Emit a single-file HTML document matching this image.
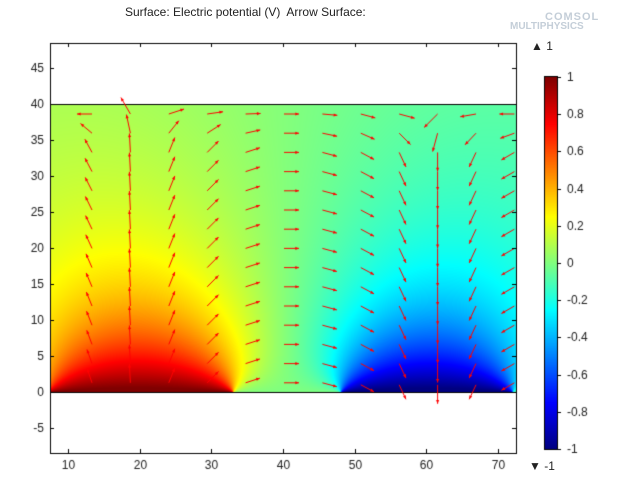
<!DOCTYPE html>
<html><head><meta charset="utf-8"><style>
body{margin:0;background:#fff;width:640px;height:480px;overflow:hidden;font-family:"Liberation Sans",sans-serif;}
canvas{position:absolute;left:0;top:0}
.t{position:absolute;font-size:12px;color:#222;}
</style></head><body>
<canvas id="c" width="640" height="480"></canvas>
<div class="t" style="left:125px;top:5px;">Surface: Electric potential (V)&nbsp; Arrow Surface:</div>
<div class="t" style="left:545px;top:11px;font-size:11px;color:#c4ced8;font-weight:bold;letter-spacing:1px">COMSOL</div>
<div class="t" style="left:510px;top:21px;font-size:10px;color:#c4ced8;font-weight:bold;">MULTIPHYSICS</div>
<div class="t" style="left:531px;top:39px;">▲ 1</div>
<div class="t" style="left:529px;top:459px;">▼ -1</div>
<script>
(function(){
const c=document.getElementById('c'),x=c.getContext('2d');
const X0=50,X1=516,Y0=43,Y1=453;
const px=u=>68+(u-10)*430/60, py=v=>392-v*7.2;
const ux=p=>10+(p-68)*60/430, uy=p=>(392-p)/7.2;
function S(a,b,x1,x2){const y=Math.max(b,0.05);return (Math.atan((x2-a)/y)-Math.atan((x1-a)/y))/Math.PI;}
function V(a,b){let v=1.02*S(a,b,7,33)-1.02*S(a,b,48,72);return v*(0.72+0.3*Math.abs(v));}
function jet(v){let t=(Math.max(-1,Math.min(1,v))+1)/2;const f=q=>Math.round(255*Math.max(0,Math.min(1,q)));
 return [f(1.5-Math.abs(4*t-3)),f(1.5-Math.abs(4*t-2)),f(1.5-Math.abs(4*t-1))];}
const img=x.createImageData(640,480);
for(let j=104;j<=392;j++)for(let i=X0;i<=X1;i++){const col=jet(V(ux(i),uy(j)));const k=(j*640+i)*4;
 img.data[k]=col[0];img.data[k+1]=col[1];img.data[k+2]=col[2];img.data[k+3]=255;}
for(let j=77;j<=449;j++){const col=jet(1-2*(j-77)/372);for(let i=545;i<=557;i++){const k=(j*640+i)*4;
 img.data[k]=col[0];img.data[k+1]=col[1];img.data[k+2]=col[2];img.data[k+3]=255;}}
x.putImageData(img,0,0);
x.strokeStyle='#000';x.lineWidth=1;
x.strokeRect(X0+.5,Y0+.5,X1-X0,Y1-Y0);
x.beginPath();x.moveTo(X0,104.5);x.lineTo(X1,104.5);x.moveTo(X0,392.5);x.lineTo(X1,392.5);x.stroke();
x.strokeRect(544.5,76.5,13,373);
const base=[-30,-3,22,45,72,90,105,118,155,180,-155,-120];
const topA=[-90,-30,72,82,88,90,95,105,105,-135,-100,-90];
const lens=[15,19,16,16,15,15,15,15,16,19,16,15];
x.strokeStyle='#f00';x.fillStyle='#f00';
for(let ci=0;ci<12;ci++)for(let ri=0;ri<15;ri++){
 const tx=92+ci*38.4,ty=114+ri*19.2;
 let th=base[ci];
 if(ri==0)th=topA[ci]; else if(ri==1)th=(topA[ci]+base[ci]*2)/3;
 if(ri==1&&ci==8)th=135; if(ri==1&&ci==9)th=-165;
 if(ci==0&&ri>1)th=-30+ri*0.8;
 th=th*Math.PI/180;const L=lens[ci];
 let sx=tx,sy=ty;
 if(ci>=7&&ci<=10&&ri==14){sy=ty+2;}
 const hx=sx+Math.sin(th)*L,hy=sy-Math.cos(th)*L;
 x.beginPath();x.moveTo(sx,sy);x.lineTo(hx,hy);x.stroke();
 const ang=Math.atan2(hy-sy,hx-sx);
 x.beginPath();x.moveTo(hx,hy);x.lineTo(hx-4*Math.cos(ang-0.4),hy-4*Math.sin(ang-0.4));
 x.lineTo(hx-4*Math.cos(ang+0.4),hy-4*Math.sin(ang+0.4));x.closePath();x.fill();}
x.strokeStyle='#000';x.fillStyle='#222';x.font='12px "Liberation Sans",sans-serif';
x.textAlign='right';x.textBaseline='middle';
for(let v=-5;v<=45;v+=5){const y=Math.round(py(v))+.5;x.beginPath();x.moveTo(X0,y);x.lineTo(X0+4,y);x.moveTo(X1,y);x.lineTo(X1-4,y);x.stroke();x.fillText(v,44,y);}
x.textAlign='center';x.textBaseline='top';
for(let v=10;v<=70;v+=10){const p=Math.round(px(v))+.5;x.beginPath();x.moveTo(p,Y1);x.lineTo(p,Y1-4);x.moveTo(p,Y0);x.lineTo(p,Y0+4);x.stroke();x.fillText(v,p,460);}
x.textAlign='left';x.textBaseline='middle';
[1,0.8,0.6,0.4,0.2,0,-0.2,-0.4,-0.6,-0.8,-1].forEach(v=>{const y=Math.round(77+(1-v)/2*372)+.5;
 x.beginPath();x.moveTo(557,y);x.lineTo(561,y);x.stroke();x.fillText(v,567,y);});
})();
</script>
</body></html>
